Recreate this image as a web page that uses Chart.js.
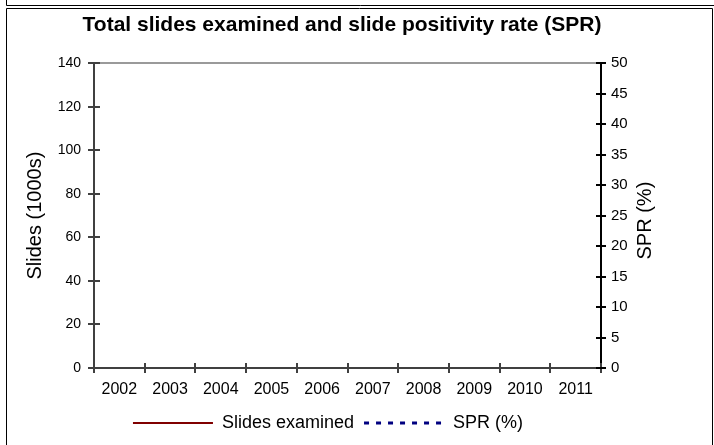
<!DOCTYPE html>
<html>
<head>
<meta charset="utf-8">
<title>Total slides examined and SPR</title>
<script src="https://cdn.jsdelivr.net/npm/chart.js@4.4.1/dist/chart.umd.min.js"></script>
<style>
    html, body { margin: 0; padding: 0; background: #fff; overflow: hidden; }
    #wrap { position: relative; width: 714px; height: 445px; }
</style>
</head>
<body>
<div id="wrap"><canvas id="sprChart"></canvas></div>
<script>
// Data: the plot area is empty, both series have no points.
var years = ['2002', '2003', '2004', '2005', '2006', '2007', '2008', '2009', '2010', '2011'];
var slidesExamined = [];
var sprPercent = [];

var slidesRange = [0, 140];
var slidesStep = 20;
var sprRange = [0, 50];
var sprStep = 5;

var chartTitle = 'Total slides examined and slide positivity rate (SPR)';
var slidesTitle = 'Slides (1000s)';
var sprTitle = 'SPR (%)';

Chart.defaults.font.family = '"Liberation Sans", Arial, sans-serif';
Chart.defaults.color = '#000';

// thin outer frame like the exported sheet
var frameLines = {
    id: 'frameLines',
    beforeDraw: function (chart) {
        var ctx = chart.ctx;
        ctx.save();
        ctx.strokeStyle = '#000';
        ctx.lineWidth = 1;
        ctx.beginPath();
        ctx.moveTo(6.5, 0);
        ctx.lineTo(6.5, 5.5);
        ctx.lineTo(chart.width, 5.5);
        ctx.moveTo(6.5, chart.height);
        ctx.lineTo(6.5, 8.5);
        ctx.lineTo(712.5, 8.5);
        ctx.lineTo(712.5, chart.height);
        ctx.stroke();
        ctx.restore();
    }
};

// tick marks crossing the axes + right axis title (reads bottom to top)
var crossTicks = {
    id: 'crossTicks',
    afterLayout: function (chart) {
        chart.legend.left -= 14;
        chart.legend.right -= 14;
    },
    afterDraw: function (chart) {
        var ctx = chart.ctx;
        var x = chart.scales.x, y = chart.scales.y, y1 = chart.scales.y1;
        var i, p;
        ctx.save();
        ctx.lineWidth = 2;
        ctx.strokeStyle = '#404040';
        ctx.beginPath();
        for (i = 0; i < y.ticks.length; i++) {
            p = Math.round(y.getPixelForTick(i));
            ctx.moveTo(y.right - 6, p);
            ctx.lineTo(y.right + 6, p);
        }
        for (i = 0; i <= years.length; i++) {
            p = Math.round(x.getPixelForValue(i - 0.5));
            ctx.moveTo(p, x.top - 5);
            ctx.lineTo(p, x.top + 5);
        }
        ctx.stroke();

        ctx.strokeStyle = '#000';
        ctx.beginPath();
        for (i = 0; i < y1.ticks.length; i++) {
            p = Math.round(y1.getPixelForTick(i));
            ctx.moveTo(y1.left - 5, p);
            ctx.lineTo(y1.left + 5, p);
        }
        ctx.stroke();

        ctx.font = '20px "Liberation Sans", Arial, sans-serif';
        ctx.fillStyle = '#000';
        ctx.textAlign = 'center';
        ctx.textBaseline = 'middle';
        ctx.translate(y1.left + 44, (y1.top + y1.bottom) / 2 + 5);
        ctx.rotate(-Math.PI / 2);
        ctx.fillText(sprTitle, 0, 0);
        ctx.restore();
    }
};

var ctx = document.getElementById('sprChart').getContext('2d');

new Chart(ctx, {
    type: 'line',
    data: {
        labels: years,
        datasets: [{
            label: 'Slides examined',
            data: slidesExamined,
            yAxisID: 'y',
            borderColor: '#800000',
            backgroundColor: '#800000',
            borderWidth: 2,
            pointRadius: 0,
            fill: false
        }, {
            label: 'SPR (%)',
            data: sprPercent,
            yAxisID: 'y1',
            borderColor: '#000080',
            backgroundColor: '#000080',
            borderWidth: 3,
            borderDash: [5, 7],
            pointRadius: 0,
            fill: false
        }]
    },
    options: {
        responsive: true,
        maintainAspectRatio: false,
        animation: false,
        layout: { padding: { left: 0, right: 30, top: 0, bottom: 3 } },
        plugins: {
            title: {
                display: true,
                text: chartTitle,
                color: '#000',
                font: { size: 21, weight: 'bold' },
                padding: { top: 13, bottom: 25 }
            },
            legend: {
                position: 'bottom',
                labels: {
                    usePointStyle: true,
                    pointStyleWidth: 80,
                    padding: 10,
                    color: '#000',
                    font: { size: 18 },
                    generateLabels: function (chart) {
                        return chart.data.datasets.map(function (ds, i) {
                            return {
                                text: ds.label,
                                fillStyle: ds.borderColor,
                                strokeStyle: ds.borderColor,
                                lineWidth: ds.borderWidth,
                                lineDash: ds.borderDash || [],
                                pointStyle: 'line',
                                hidden: false,
                                datasetIndex: i
                            };
                        });
                    }
                }
            },
            tooltip: { enabled: false }
        },
        scales: {
            x: {
                type: 'category',
                offset: true,
                grid: { drawOnChartArea: false, drawTicks: false },
                border: { color: '#404040', width: 2 },
                ticks: { font: { size: 16 }, padding: 12, autoSkip: false, maxRotation: 0 },
                afterFit: function (s) { s.height = 36; }
            },
            y: {
                position: 'left',
                min: slidesRange[0],
                max: slidesRange[1],
                grid: {
                    drawTicks: false,
                    lineWidth: 2,
                    color: function (c) {
                        return c.tick && c.tick.value === slidesRange[1] ? '#9a9a9a' : 'rgba(0,0,0,0)';
                    }
                },
                border: { color: '#404040', width: 2 },
                ticks: { stepSize: slidesStep, padding: 13, font: { size: 14 } },
                title: {
                    display: true,
                    text: slidesTitle,
                    font: { size: 20 },
                    padding: { top: 23, bottom: 0 }
                },
                afterFit: function (s) { s.width = 94; }
            },
            y1: {
                position: 'right',
                min: sprRange[0],
                max: sprRange[1],
                grid: { drawOnChartArea: false, drawTicks: false },
                border: { color: '#000', width: 2 },
                ticks: { stepSize: sprStep, padding: 10, font: { size: 15 } },
                afterFit: function (s) { s.width = 83; }
            }
        }
    },
    plugins: [frameLines, crossTicks]
});
</script>
</body>
</html>
